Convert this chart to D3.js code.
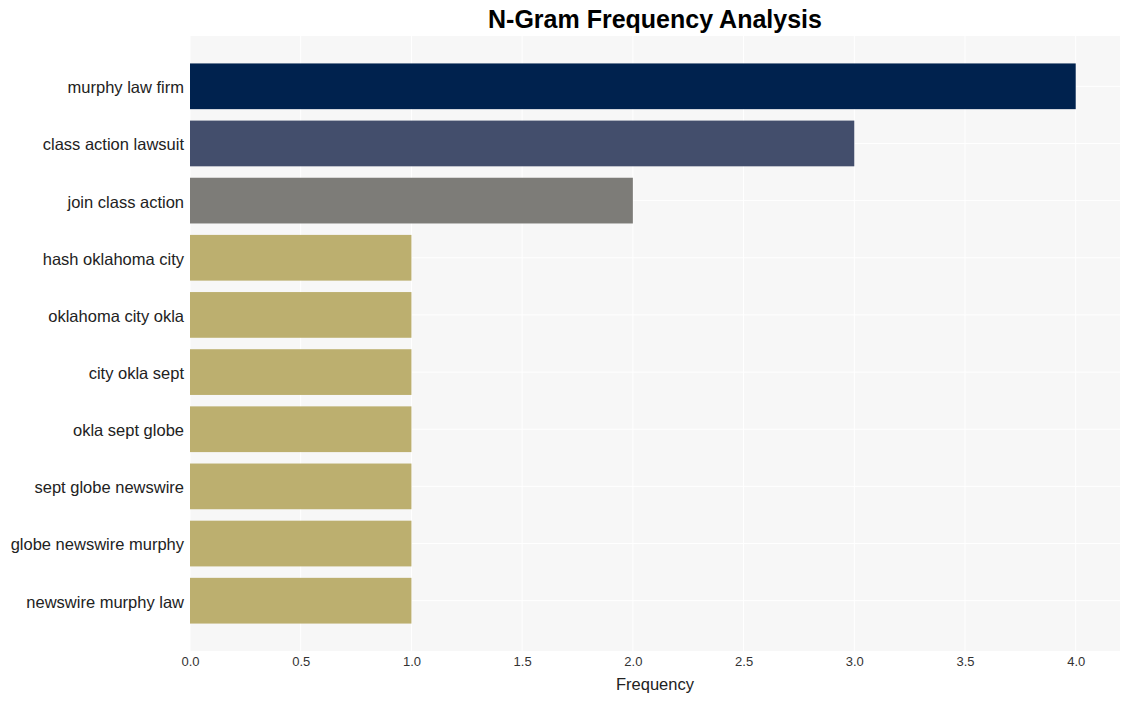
<!DOCTYPE html>
<html><head><meta charset="utf-8">
<script src="https://cdn.jsdelivr.net/npm/d3@7"></script>
<style>body{margin:0;background:#fff;} text{font-family:"Liberation Sans",Arial,sans-serif;}</style>
</head><body>
<svg id="c" width="1129" height="701"></svg>
<script>
const categories = ["murphy law firm","class action lawsuit","join class action","hash oklahoma city","oklahoma city okla","city okla sept","okla sept globe","sept globe newswire","globe newswire murphy","newswire murphy law"];
const values = [4,3,2,1,1,1,1,1,1,1];
const colors = ["#00224e","#434e6c","#7d7c78","#bcaf6f","#bcaf6f","#bcaf6f","#bcaf6f","#bcaf6f","#bcaf6f","#bcaf6f"];
const xTicks = [0,0.5,1,1.5,2,2.5,3,3.5,4];

const svg = d3.select("#c");
const m = {l:190, r:1120, t:36, b:651};
const x = d3.scaleLinear().domain([0,4.2]).range([m.l, m.r]);
const y = d3.scaleBand().domain(categories).range([m.t, m.b]).paddingInner(0.2).paddingOuter(0.48);

svg.append("rect").attr("x",m.l).attr("y",m.t).attr("width",m.r-m.l).attr("height",m.b-m.t).attr("fill","#f7f7f7");

svg.append("g").selectAll("line").data(xTicks).join("line")
  .attr("x1",d=>x(d)).attr("x2",d=>x(d)).attr("y1",m.t).attr("y2",m.b)
  .attr("stroke","#fff").attr("stroke-width",1);
svg.append("g").selectAll("line").data(categories).join("line")
  .attr("x1",m.l).attr("x2",m.r).attr("y1",d=>y(d)+y.bandwidth()/2).attr("y2",d=>y(d)+y.bandwidth()/2)
  .attr("stroke","#fff").attr("stroke-width",1);

svg.append("g").selectAll("rect").data(categories).join("rect")
  .attr("x",x(0)).attr("y",d=>y(d)).attr("height",y.bandwidth())
  .attr("width",(d,i)=>x(values[i])-x(0)).attr("fill",(d,i)=>colors[i]);

const xa = svg.append("g").attr("transform",`translate(0,${m.b})`)
  .call(d3.axisBottom(x).tickValues(xTicks).tickFormat(d3.format(".1f")).tickSize(0).tickPadding(6));
xa.select(".domain").remove();
xa.selectAll("text").attr("font-size",13).attr("fill","#333").attr("font-family","Liberation Sans, Arial, sans-serif");

const ya = svg.append("g").attr("transform",`translate(${m.l},0)`)
  .call(d3.axisLeft(y).tickSize(0).tickPadding(6));
ya.select(".domain").remove();
ya.selectAll("text").attr("font-size",16.5).attr("dy","0.42em").attr("fill","#222").attr("font-family","Liberation Sans, Arial, sans-serif");

svg.append("text").attr("x",(m.l+m.r)/2).attr("y",690).attr("text-anchor","middle")
  .attr("font-size",16.5).attr("fill","#222").text("Frequency");
svg.append("text").attr("x",(m.l+m.r)/2).attr("y",28).attr("text-anchor","middle")
  .attr("font-size",25).attr("font-weight","bold").attr("fill","#000").text("N-Gram Frequency Analysis");
</script>
</body></html>
